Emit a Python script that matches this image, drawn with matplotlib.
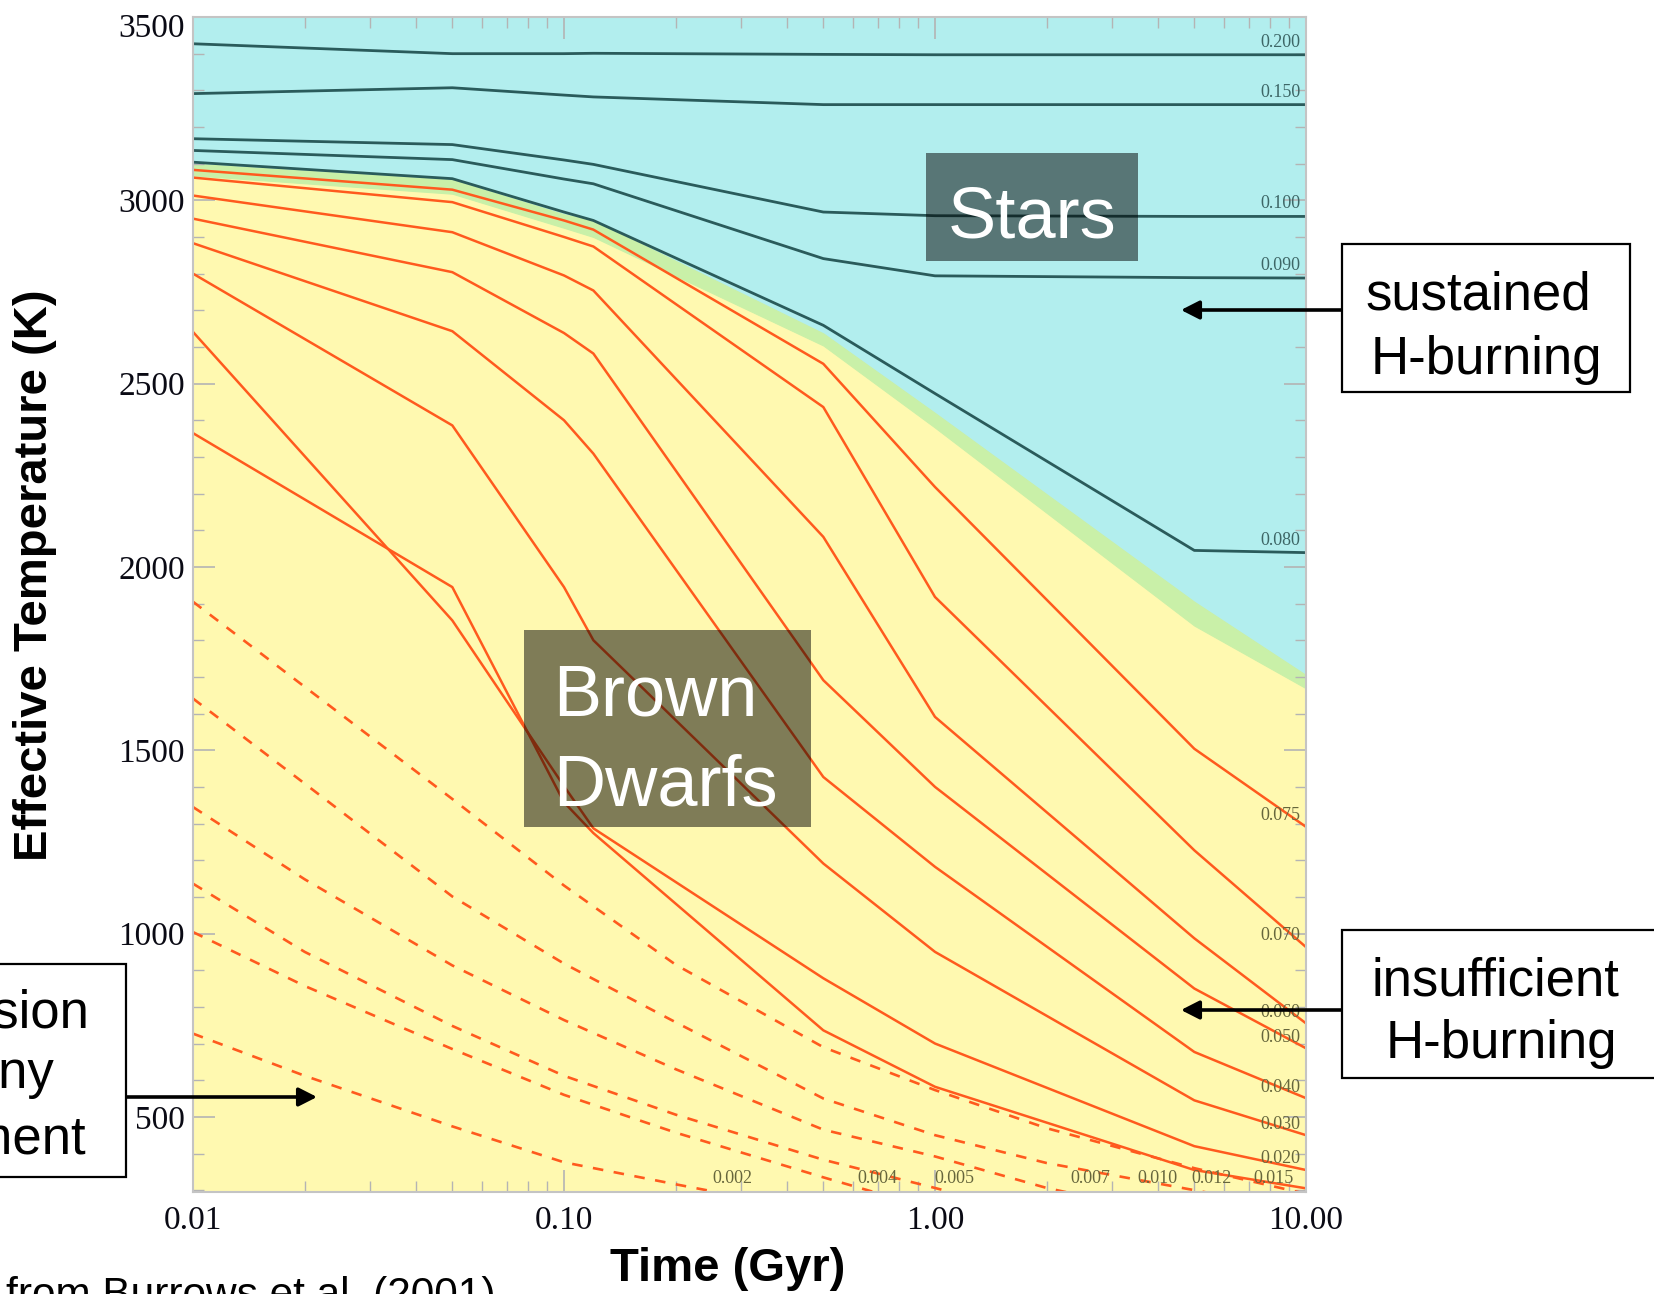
import numpy as np
import matplotlib
matplotlib.use("Agg")
import matplotlib.pyplot as plt
from matplotlib.patches import Rectangle
from matplotlib.ticker import MultipleLocator, LogLocator, NullFormatter

# ---- data ----------------------------------------------------------------
# time nodes (Gyr) shared by the stellar and brown dwarf tracks
t_grid = [0.01, 0.05, 0.1, 0.12, 0.5, 1.0, 5.0, 10.0]

# stars (Teff in K)
star_200 = [3427, 3400, 3400, 3401, 3398, 3397, 3397, 3397]
star_150 = [3291, 3307, 3287, 3282, 3261, 3261, 3261, 3261]
star_100 = [3168, 3152, 3110, 3098, 2968, 2958, 2956, 2956]
star_090 = [3136, 3111, 3058, 3045, 2841, 2794, 2789, 2788]
star_080 = [3104, 3059, 2968, 2945, 2659, 2473, 2045, 2039]

# brown dwarfs (Teff in K)
bd_075 = [3083, 3029, 2945, 2920, 2554, 2218, 1504, 1291]
bd_070 = [3062, 2995, 2900, 2874, 2436, 1918, 1227, 963]
bd_060 = [3013, 2913, 2795, 2754, 2082, 1591, 987, 755]
bd_050 = [2950, 2804, 2638, 2582, 1691, 1400, 850, 687]
bd_040 = [2883, 2643, 2400, 2309, 1427, 1182, 677, 551]
bd_030 = [2800, 2386, 1945, 1800, 1191, 950, 545, 450]
bd_020 = [2641, 1854, 1402, 1287, 878, 700, 420, 355]
bd_015 = [2365, 1945, 1358, 1274, 736, 582, 355, 305]

# planets (dashed), each with its own time nodes
pl_012_t = [0.01, 0.02, 0.05, 0.1, 0.2, 0.5, 1.0, 2.0, 5.0, 10.0]
pl_012 = [1905, 1673, 1367, 1131, 915, 690, 573, 469, 360, 290]
pl_010_t = [0.01, 0.02, 0.05, 0.1, 0.2, 0.5, 1.0, 2.0, 5.0, 6.0]
pl_010 = [1641, 1409, 1101, 918, 758, 550, 450, 374, 300, 285]
pl_007_t = [0.01, 0.02, 0.05, 0.1, 0.2, 0.5, 1.0, 2.0, 2.5]
pl_007 = [1345, 1148, 913, 764, 630, 465, 392, 306, 285]
pl_005_t = [0.01, 0.02, 0.05, 0.1, 0.2, 0.5, 1.0, 1.2]
pl_005 = [1136, 950, 748, 612, 506, 383, 306, 285]
pl_004_t = [0.01, 0.02, 0.05, 0.1, 0.2, 0.5, 0.7]
pl_004 = [1004, 857, 685, 560, 457, 335, 292]
pl_002_t = [0.01, 0.02, 0.05, 0.1, 0.2, 0.3]
pl_002 = [727, 612, 474, 376, 316, 282]

# shaded regions: lower edge of the stars zone, upper edge of the brown dwarf zone
stars_edge = [3100, 3056, 2962, 2945, 2637, 2420, 1905, 1705]
bd_edge = [3068, 3018, 2925, 2900, 2604, 2380, 1840, 1669]

star_labels = ["0.200", "0.150", "0.100", "0.090", "0.080"]
bd_labels = ["0.075", "0.070", "0.060", "0.050", "0.040", "0.030", "0.020"]
bottom_labels = ["0.002", "0.004", "0.005", "0.007", "0.010", "0.012", "0.015"]
bottom_label_t = [0.285, 0.698, 1.13, 2.62, 3.97, 5.55, 8.15]

# ---- figure --------------------------------------------------------------
W, H = 1654, 1294
fig = plt.figure(figsize=(W / 100, H / 100), dpi=100)
ax = fig.add_axes([193 / W, 1 - 1192 / H, (1306 - 193) / W, (1192 - 17) / H])

def fx(x):
    return x / W

def fy(y):
    return 1 - y / H

cyan = "#b2eeee"
yellow = "#fff9b0"
green = "#c9f0a8"
star_col = "#2a5b5b"
bd_col = "#ff5a1e"

ax.set_xscale("log")
ax.set_xlim(0.01, 10)
ax.set_ylim(295, 3500)

ax.fill_between(t_grid, stars_edge, 3600, color=cyan, lw=0.8, zorder=0)
ax.fill_between(t_grid, 0, bd_edge, color=yellow, lw=0.8, zorder=0)
ax.fill_between(t_grid, bd_edge, stars_edge, color=green, lw=0.8, zorder=0)

stars = [star_200, star_150, star_100, star_090, star_080]
for T in stars:
    ax.plot(t_grid, T, color=star_col, lw=2.0, zorder=2)

bds = [bd_075, bd_070, bd_060, bd_050, bd_040, bd_030, bd_020, bd_015]
for T in bds:
    ax.plot(t_grid, T, color=bd_col, lw=1.8, zorder=2)

planets = [(pl_012_t, pl_012), (pl_010_t, pl_010), (pl_007_t, pl_007),
           (pl_005_t, pl_005), (pl_004_t, pl_004), (pl_002_t, pl_002)]
for t, T in planets:
    ax.plot(t, T, color=bd_col, lw=1.9, dashes=(4, 4), zorder=2)

# mass labels at the right edge
for lab, T in zip(star_labels, stars):
    ax.annotate(lab, xy=(10, T[-1]), xytext=(-4, 9), textcoords="offset points",
                ha="right", va="center", fontsize=13, family="Liberation Serif",
                color="#3d6666", zorder=4)
for lab, T in zip(bd_labels, bds):
    ax.annotate(lab, xy=(10, T[-1]), xytext=(-4, 8), textcoords="offset points",
                ha="right", va="center", fontsize=13, family="Liberation Serif",
                color="#66663c", zorder=4)
for lab, t in zip(bottom_labels, bottom_label_t):
    ax.text(t, 333, lab, ha="center", va="center", fontsize=13,
            family="Liberation Serif", color="#66663c", zorder=4)

# ticks
ax.set_xticks([0.01, 0.1, 1, 10])
ax.set_xticklabels(["0.01", "0.10", "1.00", "10.00"])
ax.xaxis.set_minor_locator(LogLocator(base=10, subs=(2, 3, 4, 5, 6, 7, 8, 9)))
ax.xaxis.set_minor_formatter(NullFormatter())
ax.set_yticks([500, 1000, 1500, 2000, 2500, 3000, 3500])
ax.set_yticklabels(["500", "1000", "1500", "2000", "2500", "3000", ""])
ax.yaxis.set_minor_locator(MultipleLocator(100))
for lab in ax.get_xticklabels() + ax.get_yticklabels():
    lab.set_fontfamily("Liberation Serif")
    lab.set_fontsize(24)
ax.tick_params(which="both", direction="in", top=True, right=True,
               color="#b4b4b4", labelcolor="#0a0a14")
ax.tick_params(which="major", length=16, width=1.2)
ax.tick_params(which="minor", length=8, width=1.0)
ax.tick_params(axis="x", pad=10)
ax.tick_params(axis="y", pad=6)
for s in ax.spines.values():
    s.set_color("#c4c4c4")
    s.set_linewidth(1.5)
fig.text(fx(185), fy(25), "3500", ha="right", va="center_baseline",
         fontsize=24, family="Liberation Serif", color="#0a0a14")

# axis titles
fig.text(fx(728), fy(1281), "Time (Gyr)", ha="center", va="baseline",
         fontsize=34, fontweight="bold", family="Liberation Sans")
fig.text(fx(35), fy(575), "Effective Temperature (K)", rotation=90,
         ha="center", va="center", fontsize=34, fontweight="bold",
         family="Liberation Sans")
fig.text(fx(6), fy(1307), "from Burrows et al. (2001)", ha="left",
         va="baseline", fontsize=30.5, family="Liberation Sans")

# translucent region boxes
fig.add_artist(Rectangle((fx(926), fy(260.5)), (1138 - 926) / W, (260.5 - 152.5) / H,
                         transform=fig.transFigure, facecolor="black", alpha=0.5,
                         lw=0, zorder=5))
fig.text(fx(1032), fy(238), "Stars", ha="center", va="baseline", color="white",
         fontsize=52, family="Liberation Sans", zorder=6)
fig.add_artist(Rectangle((fx(524), fy(827)), (811 - 524) / W, (827 - 630) / H,
                         transform=fig.transFigure, facecolor="black", alpha=0.5,
                         lw=0, zorder=5))
fig.text(fx(553), fy(715), "Brown", ha="left", va="baseline", color="white",
         fontsize=52, family="Liberation Sans", zorder=6)
fig.text(fx(553), fy(805), "Dwarfs", ha="left", va="baseline", color="white",
         fontsize=52, family="Liberation Sans", zorder=6)

# annotation boxes with arrows
def callout_box(x0, y0, x1, y1):
    fig.add_artist(Rectangle((fx(x0), fy(y1)), (x1 - x0) / W, (y1 - y0) / H,
                             transform=fig.transFigure, facecolor="white",
                             edgecolor="black", lw=1.6, zorder=5))

def arrow(xs, xe, y):
    ax.annotate("", xy=(xe, H - y), xytext=(xs, H - y), xycoords="figure pixels",
                textcoords="figure pixels",
                arrowprops=dict(arrowstyle="-|>,head_length=0.55,head_width=0.28",
                                mutation_scale=20, lw=2.6, color="black",
                                shrinkA=0, shrinkB=0), zorder=6)

callout_box(1342, 244, 1630, 392)
fig.text(fx(1478), fy(309), "sustained", ha="center", va="baseline",
         fontsize=38, family="Liberation Sans", zorder=6)
fig.text(fx(1486), fy(374), "H-burning", ha="center", va="baseline",
         fontsize=38, family="Liberation Sans", zorder=6)
arrow(1342, 1181, 310)

callout_box(1342, 930, 1680, 1078)
fig.text(fx(1495), fy(996), "insufficient", ha="center", va="baseline",
         fontsize=38, family="Liberation Sans", zorder=6)
fig.text(fx(1501), fy(1058), "H-burning", ha="center", va="baseline",
         fontsize=38, family="Liberation Sans", zorder=6)
arrow(1342, 1181, 1010)

callout_box(-30, 964, 126, 1177)
fig.text(fx(89), fy(1027), "no fusion", ha="right", va="baseline",
         fontsize=38, family="Liberation Sans", zorder=6)
fig.text(fx(54), fy(1088), "of any", ha="right", va="baseline",
         fontsize=38, family="Liberation Sans", zorder=6)
fig.text(fx(86), fy(1153), "element", ha="right", va="baseline",
         fontsize=38, family="Liberation Sans", zorder=6)
arrow(126, 317, 1097)

fig.savefig("out.png", dpi=100)
